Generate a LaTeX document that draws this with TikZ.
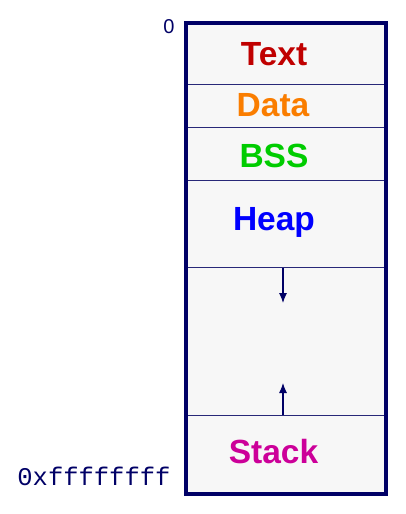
\documentclass[tikz,border=0pt]{standalone}
\usepackage{fontspec}
\setmainfont{Liberation Sans}
\newfontfamily\addrfont{Liberation Mono}
\usetikzlibrary{arrows.meta}
\definecolor{navy}{RGB}{0,0,102}
\definecolor{segline}{RGB}{40,40,120}
\definecolor{seggray}{RGB}{247,247,247}
\definecolor{textred}{RGB}{192,0,0}
\definecolor{dataorange}{RGB}{250,125,0}
\definecolor{bssgreen}{RGB}{0,204,0}
\definecolor{heapblue}{RGB}{0,0,255}
\definecolor{stackpink}{RGB}{204,0,153}
\begin{document}
\begin{tikzpicture}
[
    x=1pt, y=-1pt,
    seg/.style={draw=segline, line width=0.9pt, fill=seggray, minimum width=200pt, inner sep=0pt, outer sep=0pt},
    segname/.style={anchor=base, font=\fontsize{33.5}{36}\selectfont\bfseries},
    addr/.style={anchor=base east, text=navy},
    growarrow/.style={draw=navy, line width=1.1pt, -{Latex[length=10pt,width=8pt]}},
]
\useasboundingbox (0,0) rectangle (405,514);
\node [seg, minimum height=61pt, anchor=north west] (text) at (186,23) {};
\node [seg, minimum height=43pt, anchor=north] (data) at (text.south) {};
\node [seg, minimum height=53pt, anchor=north] (bss) at (data.south) {};
\node [seg, minimum height=87pt, anchor=north] (heap) at (bss.south) {};
\node [seg, minimum height=148pt, anchor=north] (gap) at (heap.south) {};
\node [seg, minimum height=79pt, anchor=north] (stack) at (gap.south) {};
\draw [navy, line width=4pt] (text.north west) rectangle (stack.south east);

\node [segname, text=textred] (textname) at (274,65) {Text};
\node [segname, text=dataorange] (dataname) at (273,116) {Data};
\node [segname, text=bssgreen] (bssname) at (274,167) {BSS};
\node [segname, text=heapblue] (heapname) at (274,230) {Heap};
\node [segname, text=stackpink] (stackname) at (273.5,463) {Stack};

\node [addr, font=\fontsize{20}{22}\selectfont] (low) at (178,33) {0};
\node [addr, font=\addrfont\fontsize{25.5}{28}\selectfont] (high) at (174,485) {0xffffffff};

\coordinate (heaptop) at (283,268);
\coordinate (heaptip) at (283,303);
\coordinate (stacktop) at (283,415);
\coordinate (stacktip) at (283,383);
\draw [growarrow] (heaptop) -- (heaptip);
\draw [growarrow] (stacktop) -- (stacktip);
\end{tikzpicture}
\end{document}
